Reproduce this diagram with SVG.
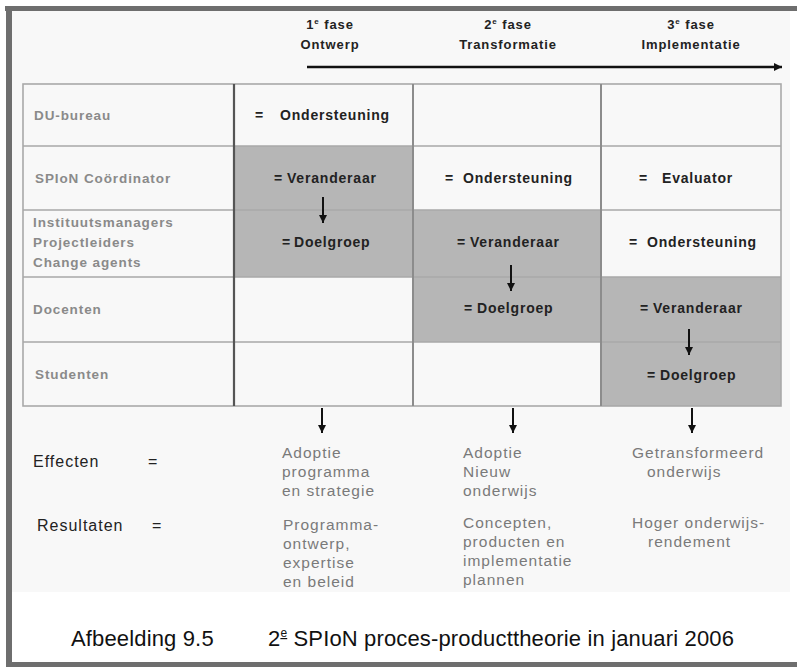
<svg xmlns="http://www.w3.org/2000/svg" width="797" height="667" viewBox="0 0 797 667">
  <style>
    .frame { fill: #6e6e6e; }
    .grid { stroke: #a9a9a9; stroke-width: 1.6; fill: none; }
    .act { fill: #b6b6b6; }
    .lbl { font-family: "Liberation Sans", Arial, sans-serif; font-weight: bold; font-size: 13.5px; fill: #8a8a8a; letter-spacing: 0.9px; }
    .cell { font-family: "Liberation Sans", Arial, sans-serif; font-weight: bold; font-size: 14px; fill: #222; letter-spacing: 0.8px; }
    .hdr { font-family: "Liberation Sans", Arial, sans-serif; font-weight: bold; font-size: 13px; fill: #222; letter-spacing: 0.9px; text-anchor: middle; }
    .out { font-family: "Liberation Sans", Arial, sans-serif; font-size: 15.5px; fill: #7a7a7a; letter-spacing: 1px; }
    .key { font-family: "Liberation Sans", Arial, sans-serif; font-size: 16px; fill: #222; letter-spacing: 1px; }
    .cap { font-family: "Liberation Sans", Arial, sans-serif; font-size: 22px; fill: #111; letter-spacing: 0.15px; }
    .sup { font-size: 8px; }
    .arr { stroke: #111; stroke-width: 2; fill: none; marker-end: url(#head); }
  </style>
  <defs>
    <marker id="head" markerUnits="userSpaceOnUse" markerWidth="9" markerHeight="9" refX="8" refY="4.5" orient="auto">
      <path d="M0,0.5 L8,4.5 L0,8.5 z" fill="#111"/>
    </marker>
  </defs>

  <!-- page and frame -->
  <rect x="0" y="0" width="797" height="667" fill="#ffffff"/>
  <rect x="12" y="11" width="778" height="581" fill="#f8f8f8"/>
  <rect class="frame" x="5" y="6" width="792" height="5"/>
  <rect class="frame" x="6" y="6" width="6" height="661"/>
  <rect class="frame" x="6" y="662" width="791" height="5"/>

  <!-- phase headers -->
  <g id="phase1">
    <text class="hdr" x="330" y="29">1<tspan class="sup" dy="-5">e</tspan><tspan dy="5"> fase</tspan></text>
    <text class="hdr" x="330" y="49">Ontwerp</text>
  </g>
  <g id="phase2">
    <text class="hdr" x="508" y="29">2<tspan class="sup" dy="-5">e</tspan><tspan dy="5"> fase</tspan></text>
    <text class="hdr" x="508" y="49">Transformatie</text>
  </g>
  <g id="phase3">
    <text class="hdr" x="691" y="29">3<tspan class="sup" dy="-5">e</tspan><tspan dy="5"> fase</tspan></text>
    <text class="hdr" x="691" y="49">Implementatie</text>
  </g>

  <!-- table: active (shaded) cells -->
  <g id="shading">
    <rect class="act" x="233" y="146" width="180" height="131"/>
    <rect class="act" x="413" y="210" width="188" height="132"/>
    <rect class="act" x="601" y="277" width="180" height="129"/>
  </g>

  <!-- table: grid -->
  <g id="grid">
    <rect class="grid" x="23" y="84" width="758" height="322"/>
    <line class="grid" x1="23" y1="146" x2="781" y2="146"/>
    <line class="grid" x1="23" y1="210" x2="781" y2="210"/>
    <line class="grid" x1="23" y1="277" x2="781" y2="277"/>
    <line class="grid" x1="23" y1="342" x2="781" y2="342"/>
    <line x1="234" y1="84" x2="234" y2="406" stroke="#555" stroke-width="2.2"/>
    <line x1="413" y1="84" x2="413" y2="406" stroke="#8c8c8c" stroke-width="2"/>
    <line x1="601" y1="84" x2="601" y2="406" stroke="#8c8c8c" stroke-width="2"/>
  </g>

  <!-- row labels -->
  <g id="row-du">
    <text class="lbl" x="34" y="120">DU-bureau</text>
  </g>
  <g id="row-spion">
    <text class="lbl" x="35" y="183">SPIoN Coördinator</text>
  </g>
  <g id="row-managers">
    <text class="lbl" x="33" y="227">Instituutsmanagers</text>
    <text class="lbl" x="33" y="247">Projectleiders</text>
    <text class="lbl" x="33" y="267">Change agents</text>
  </g>
  <g id="row-docenten">
    <text class="lbl" x="33" y="314">Docenten</text>
  </g>
  <g id="row-studenten">
    <text class="lbl" x="35" y="379">Studenten</text>
  </g>

  <!-- phase 1 cells -->
  <g id="c1-du">
    <text class="cell" y="120"><tspan x="255">=</tspan><tspan x="280">Ondersteuning</tspan></text>
  </g>
  <g id="c1-spion">
    <text class="cell" y="183"><tspan x="274">=</tspan><tspan x="287">Veranderaar</tspan></text>
  </g>
  <g id="c1-managers">
    <text class="cell" y="247"><tspan x="282">=</tspan><tspan x="294">Doelgroep</tspan></text>
  </g>

  <!-- phase 2 cells -->
  <g id="c2-spion">
    <text class="cell" y="183"><tspan x="445">=</tspan><tspan x="463">Ondersteuning</tspan></text>
  </g>
  <g id="c2-managers">
    <text class="cell" y="247"><tspan x="457">=</tspan><tspan x="470">Veranderaar</tspan></text>
  </g>
  <g id="c2-docenten">
    <text class="cell" y="313"><tspan x="464">=</tspan><tspan x="477">Doelgroep</tspan></text>
  </g>

  <!-- phase 3 cells -->
  <g id="c3-spion">
    <text class="cell" y="183"><tspan x="639">=</tspan><tspan x="662">Evaluator</tspan></text>
  </g>
  <g id="c3-managers">
    <text class="cell" y="247"><tspan x="629">=</tspan><tspan x="647">Ondersteuning</tspan></text>
  </g>
  <g id="c3-docenten">
    <text class="cell" y="313"><tspan x="640">=</tspan><tspan x="653">Veranderaar</tspan></text>
  </g>
  <g id="c3-studenten">
    <text class="cell" y="380"><tspan x="647">=</tspan><tspan x="660">Doelgroep</tspan></text>
  </g>

  <!-- outcome keys -->
  <g id="key-effecten">
    <text class="key" x="33" y="467">Effecten</text>
    <text class="key" x="148" y="467">=</text>
  </g>
  <g id="key-resultaten">
    <text class="key" x="37" y="531">Resultaten</text>
    <text class="key" x="152" y="531">=</text>
  </g>

  <!-- outcomes per phase -->
  <g id="out1">
    <text class="out" x="282" y="458">Adoptie</text>
    <text class="out" x="282" y="477">programma</text>
    <text class="out" x="282" y="496">en strategie</text>
    <text class="out" x="283" y="530">Programma-</text>
    <text class="out" x="283" y="549">ontwerp,</text>
    <text class="out" x="283" y="568">expertise</text>
    <text class="out" x="283" y="587">en beleid</text>
  </g>
  <g id="out2">
    <text class="out" x="463" y="458">Adoptie</text>
    <text class="out" x="463" y="477">Nieuw</text>
    <text class="out" x="463" y="496">onderwijs</text>
    <text class="out" x="463" y="528">Concepten,</text>
    <text class="out" x="463" y="547">producten en</text>
    <text class="out" x="463" y="566">implementatie</text>
    <text class="out" x="463" y="585">plannen</text>
  </g>
  <g id="out3">
    <text class="out" x="632" y="458">Getransformeerd</text>
    <text class="out" x="647" y="477">onderwijs</text>
    <text class="out" x="632" y="528">Hoger onderwijs-</text>
    <text class="out" x="648" y="547">rendement</text>
  </g>

  <!-- connectors -->
  <g id="connectors">
    <line x1="307" y1="67" x2="782" y2="67" stroke="#111" stroke-width="2.6" marker-end="url(#head)"/>
    <line class="arr" x1="323" y1="197" x2="323" y2="223"/>
    <line class="arr" x1="511" y1="265" x2="511" y2="291"/>
    <line class="arr" x1="689" y1="329" x2="689" y2="355"/>
    <line class="arr" x1="322" y1="408" x2="322" y2="433"/>
    <line class="arr" x1="513" y1="408" x2="513" y2="433"/>
    <line class="arr" x1="692" y1="408" x2="692" y2="433"/>
  </g>

  <!-- caption -->
  <g id="caption">
    <text class="cap" x="71" y="646">Afbeelding 9.5</text>
    <text class="cap" x="268" y="646">2<tspan font-size="12px" dy="-9" text-decoration="underline">e</tspan><tspan dy="9"> SPIoN proces-producttheorie in januari 2006</tspan></text>
  </g>
</svg>
